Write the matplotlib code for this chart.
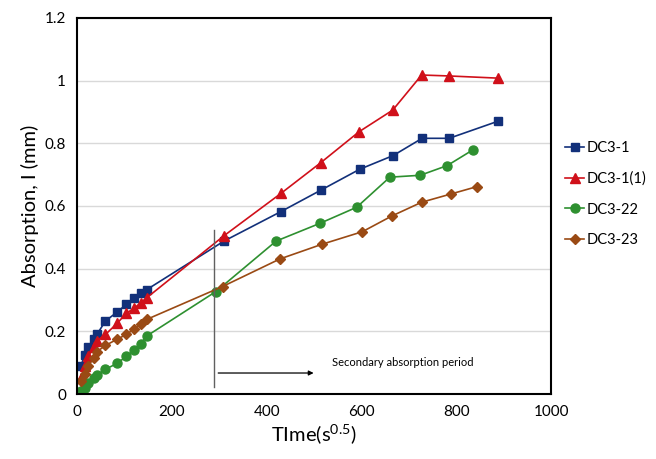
import numpy as np
import matplotlib.pyplot as plt

plt.rcParams['font.family'] = ['Lato', 'DejaVu Sans']
plt.rcParams['mathtext.fontset'] = 'custom'
plt.rcParams['mathtext.rm'] = 'Lato'
plt.rcParams['mathtext.it'] = 'Lato'

# early (primary) time points, common to all series
t_early = [8, 17, 24, 35, 42, 60, 85, 104, 120, 134, 147]

dc1_t = t_early + [310, 430, 515, 596, 667, 728, 785, 889]
dc1_y = [0.09, 0.125, 0.15, 0.175, 0.19, 0.233, 0.262, 0.286, 0.307, 0.321, 0.333,
         0.488, 0.582, 0.651, 0.717, 0.761, 0.816, 0.816, 0.871]

dc1b_t = t_early + [310, 430, 514, 595, 666, 727, 785, 889]
dc1b_y = [0.05, 0.09, 0.12, 0.15, 0.17, 0.19, 0.226, 0.258, 0.273, 0.291, 0.307,
          0.505, 0.64, 0.738, 0.837, 0.906, 1.018, 1.015, 1.008]

dc22_t = t_early + [293, 420, 513, 590, 660, 724, 781, 835]
dc22_y = [0.008, 0.02, 0.034, 0.05, 0.06, 0.079, 0.098, 0.12, 0.14, 0.159, 0.185,
          0.327, 0.488, 0.545, 0.596, 0.692, 0.698, 0.729, 0.779]

dc23_t = t_early + [307, 428, 517, 602, 664, 727, 788, 844]
dc23_y = [0.04, 0.065, 0.09, 0.114, 0.135, 0.155, 0.175, 0.19, 0.207, 0.223, 0.238,
          0.343, 0.431, 0.478, 0.518, 0.568, 0.612, 0.638, 0.662]

fig = plt.figure(figsize=(6.56, 4.59), dpi=100)
ax = fig.add_axes([0.1174, 0.1416, 0.7226, 0.8192])

ax.plot(dc1_t, dc1_y, '-s', color='#12307A', ms=6, lw=1.2, label='DC3-1')
ax.plot(dc1b_t, dc1b_y, '-^', color='#D0101A', ms=6.5, lw=1.2, label='DC3-1(1)')
ax.plot(dc22_t, dc22_y, '-o', color='#2E9030', ms=6.5, lw=1.2, label='DC3-22')
ax.plot(dc23_t, dc23_y, '-D', color='#9A4A14', ms=5.5, lw=1.2, label='DC3-23')

# secondary absorption marker
ax.plot([289, 289], [0.023, 0.523], color='#606060', lw=1.0)
ax.annotate('', xy=(505, 0.067), xytext=(292, 0.067),
            arrowprops=dict(arrowstyle='-|>', color='black', lw=0.9, mutation_scale=7))
ax.text(538, 0.102, 'Secondary absorption period', fontsize=8, va='center')

ax.set_xlim(0, 1000)
ax.set_ylim(0, 1.2)
ax.set_xticks([0, 200, 400, 600, 800, 1000])
ax.set_yticks([0, 0.2, 0.4, 0.6, 0.8, 1.0, 1.2])
ax.set_yticklabels(['0', '0.2', '0.4', '0.6', '0.8', '1', '1.2'])
ax.tick_params(length=0, labelsize=11, pad=8)
ax.grid(axis='y', color='#d9d9d9', lw=1)
ax.set_axisbelow(True)
for s in ax.spines.values():
    s.set_linewidth(1.5)

ax.set_xlabel('TIme(s$^{0.5}$)', fontsize=14.5, labelpad=2)
ax.set_ylabel('Absorption, I (mm)', fontsize=14.5, labelpad=4)

fig.legend(loc='upper left', bbox_to_anchor=(0.857, 0.70), frameon=False,
           fontsize=10.5, handlelength=1.3, handletextpad=0.15, labelspacing=1.15,
           borderpad=0.2, borderaxespad=0)

fig.savefig('out.png', dpi=100)
